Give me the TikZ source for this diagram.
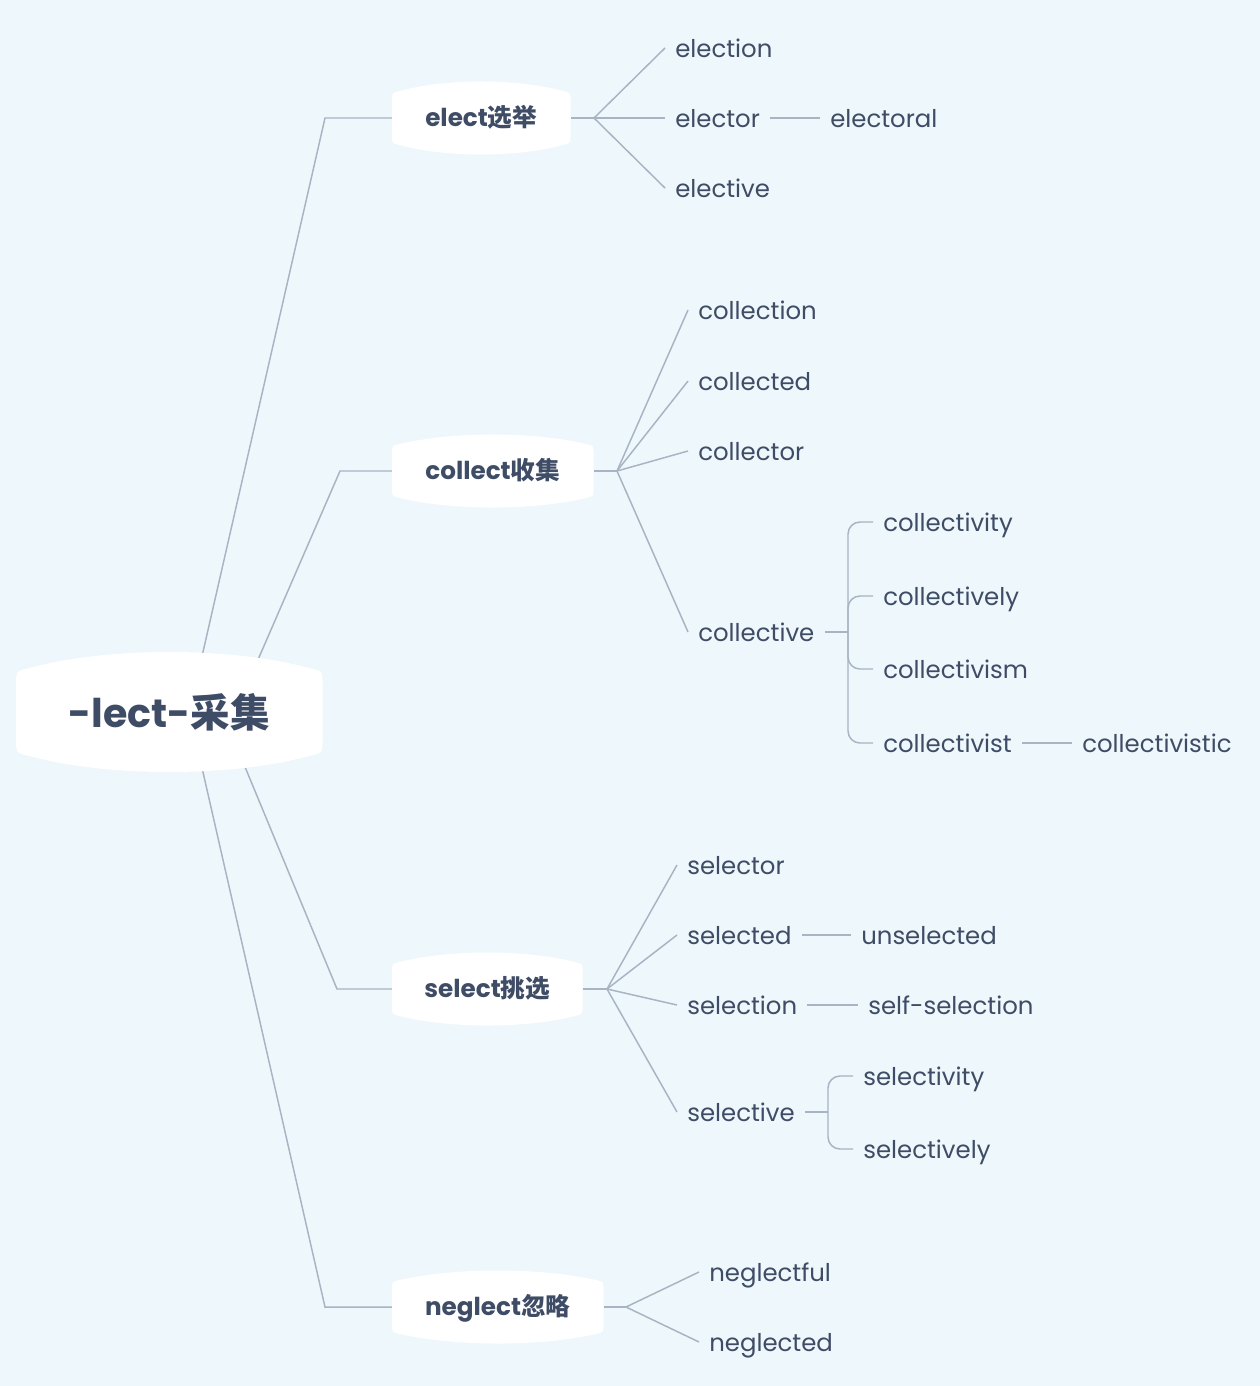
\documentclass[tikz,border=0pt]{standalone}
\usepackage{fontspec}
\setmainfont{Poppins}
\newfontfamily\cjk{Noto Sans CJK SC}
\usetikzlibrary{calc}
\definecolor{bgblue}{HTML}{EEF7FB}
\definecolor{ink}{HTML}{3E4C66}
\definecolor{wirecol}{HTML}{A8B3C3}
\pgfdeclarelayer{bg}
\pgfdeclarelayer{wires}
\pgfdeclarelayer{bub}
\pgfsetlayers{bg,wires,bub,main}
\tikzset{
	root/.style={font=\bfseries\fontsize{29.7}{34}\selectfont, text=ink, anchor=west, inner sep=0pt, text height=23pt, text depth=0pt, minimum width=229.5pt, minimum height=61.5pt},
	branch/.style={font=\bfseries\fontsize{18.5}{22}\selectfont, text=ink, anchor=west, inner sep=0pt, text height=12pt, text depth=0pt, minimum height=37.5pt},
	leaf/.style={font=\fontsize{18.3}{22}\selectfont, text=ink, anchor=west, inner xsep=7.5pt, inner ysep=0pt, text height=14pt, text depth=0pt},
	wire/.style={draw=wirecol, line width=1.1pt},
}
% white bubble behind a node: name, bulge, corner radius
\def\bubble(#1)(#2:#3){
	\begin{pgfonlayer}{bub}
	\fill[white] let \p1=(#1.north west), \p2=(#1.south east) in
		(\x1,\y2+#3) -- (\x1,\y1-#3) .. controls (\x1,\y1) .. (\x1+#3,\y1+0.15*#2)
		.. controls ($(\x1,\y1)!0.3!(\x2,\y1)+(0,1.2*#2)$) and ($(\x1,\y1)!0.7!(\x2,\y1)+(0,1.2*#2)$) .. (\x2-#3,\y1+0.15*#2)
		.. controls (\x2,\y1) .. (\x2,\y1-#3) -- (\x2,\y2+#3) .. controls (\x2,\y2) .. (\x2-#3,\y2-0.15*#2)
		.. controls ($(\x1,\y2)!0.7!(\x2,\y2)+(0,-1.2*#2)$) and ($(\x1,\y2)!0.3!(\x2,\y2)+(0,-1.2*#2)$) .. (\x1+#3,\y2-0.15*#2)
		.. controls (\x1,\y2) .. cycle;
	\end{pgfonlayer}
}
\begin{document}
\begin{tikzpicture}[x=0.75pt, y=-0.75pt]
	%%%%% START %%%%%
	
	\useasboundingbox (0,0) rectangle (1260,1386);
	\begin{pgfonlayer}{bg}
		\fill[bgblue] (0,0) rectangle (1260,1386);
	\end{pgfonlayer}
	
	\node[root] (root) at (16,712) {-lect-{\cjk 采集}};
	\node[branch, minimum width=133.5pt] (elect) at (392,118) {elect{\cjk 选举}};
	\node[branch, minimum width=150.75pt] (collect) at (392,471) {collect{\cjk 收集}};
	\node[branch, minimum width=142.5pt] (select) at (392,989) {select{\cjk 挑选}};
	\node[branch, minimum width=158.25pt] (neglect) at (392,1307) {neglect{\cjk 忽略}};
	
	\bubble(root)(15pt:11pt)
	\bubble(elect)(9pt:6pt)
	\bubble(collect)(9pt:6pt)
	\bubble(select)(9pt:6pt)
	\bubble(neglect)(9pt:6pt)
	
	\coordinate (fe) at (594,118);
	\coordinate (fc) at (617,471);
	\coordinate (fs) at (607,989);
	\coordinate (fn) at (626,1307);
	\coordinate (cb) at (848,632);
	\coordinate (sb) at (828,1112);
	
	% elect
	\node[leaf] (election) at (665,48) {election};
	\node[leaf] (elector) at (665,118) {elector};
	\node[leaf] (elective) at (665,188) {elective};
	\node[leaf] (electoral) at (820,118) {electoral};
	
	% collect
	\node[leaf] (collection) at (688,310) {collection};
	\node[leaf] (collected) at (688,381) {collected};
	\node[leaf] (collector) at (688,451) {collector};
	\node[leaf] (collective) at (688,632) {collective};
	\node[leaf] (collectivity) at (873,522) {collectivity};
	\node[leaf] (collectively) at (873,596) {collectively};
	\node[leaf] (collectivism) at (873,669) {collectivism};
	\node[leaf] (collectivist) at (873,743) {collectivist};
	\node[leaf] (collectivistic) at (1072,743) {collectivistic};
	
	% select
	\node[leaf] (selector) at (677,865) {selector};
	\node[leaf] (selected) at (677,935) {selected};
	\node[leaf] (selection) at (677,1005) {selection};
	\node[leaf] (selective) at (677,1112) {selective};
	\node[leaf] (unselected) at (851,935) {unselected};
	\node[leaf] (selfselection) at (858,1005) {self-selection};
	\node[leaf] (selectivity) at (853,1076) {selectivity};
	\node[leaf] (selectively) at (853,1149) {selectively};
	
	% neglect
	\node[leaf] (neglectful) at (699,1272) {neglectful};
	\node[leaf] (neglected) at (699,1342) {neglected};
	
	\begin{pgfonlayer}{wires}
		\draw[wire] ($(root.center)+(20,0)$) -- ($(elect.west)+(-67,0)$) -- (elect.west);
		\draw[wire] ($(root.center)+(66,0)$) -- ($(collect.west)+(-52,0)$) -- (collect.west);
		\draw[wire] ($(root.center)+(53,0)$) -- ($(select.west)+(-55,0)$) -- (select.west);
		\draw[wire] ($(root.center)+(20,0)$) -- ($(neglect.west)+(-67,0)$) -- (neglect.west);
		
		\draw[wire] (elect.east) -- (fe);
		\draw[wire] (fe) -- (election.west);
		\draw[wire] (fe) -- (elector.west);
		\draw[wire] (fe) -- (elective.west);
		\draw[wire] (elector.east) -- (electoral.west);
		
		\draw[wire] (collect.east) -- (fc);
		\draw[wire] (fc) -- (collection.west);
		\draw[wire] (fc) -- (collected.west);
		\draw[wire] (fc) -- (collector.west);
		\draw[wire] (fc) -- (collective.west);
		\draw[wire] (collective.east) -- (cb);
		\draw[wire, rounded corners=9pt] (cb) |- (collectivity.west);
		\draw[wire, rounded corners=9pt] (cb) |- (collectively.west);
		\draw[wire, rounded corners=9pt] (cb) |- (collectivism.west);
		\draw[wire, rounded corners=9pt] (cb) |- (collectivist.west);
		\draw[wire] (collectivist.east) -- (collectivistic.west);
		
		\draw[wire] (select.east) -- (fs);
		\draw[wire] (fs) -- (selector.west);
		\draw[wire] (fs) -- (selected.west);
		\draw[wire] (fs) -- (selection.west);
		\draw[wire] (fs) -- (selective.west);
		\draw[wire] (selected.east) -- (unselected.west);
		\draw[wire] (selection.east) -- (selfselection.west);
		\draw[wire] (selective.east) -- (sb);
		\draw[wire, rounded corners=9pt] (sb) |- (selectivity.west);
		\draw[wire, rounded corners=9pt] (sb) |- (selectively.west);
		
		\draw[wire] (neglect.east) -- (fn);
		\draw[wire] (fn) -- (neglectful.west);
		\draw[wire] (fn) -- (neglected.west);
	\end{pgfonlayer}
	
	%%%%% END %%%%%
\end{tikzpicture}
\end{document}
